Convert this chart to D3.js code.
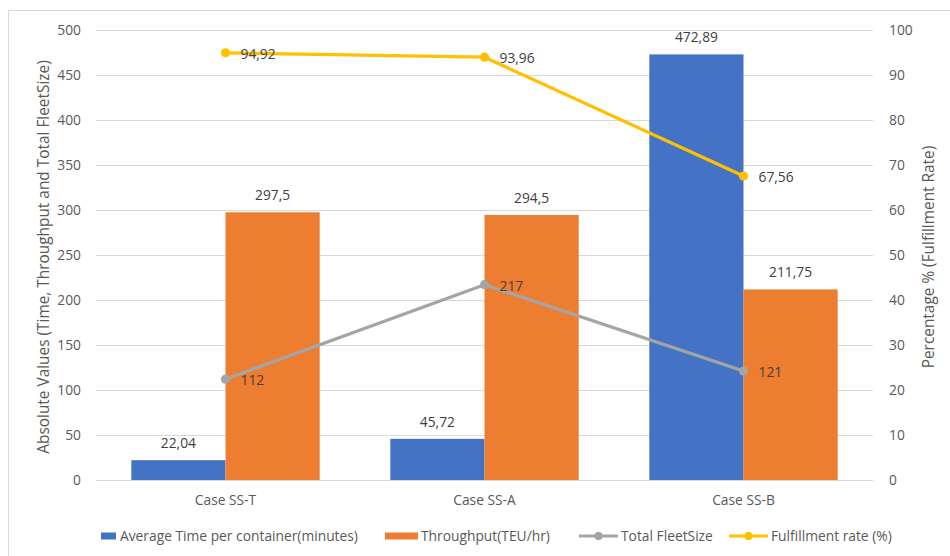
<!DOCTYPE html>
<html>
<head>
<meta charset="utf-8">
<script src="https://cdn.jsdelivr.net/npm/d3@7"></script>
<style>
  html, body { margin: 0; padding: 0; background: #fff; }
  svg { display: block; font-family: "Open Sans", "Noto Sans", sans-serif; }
</style>
</head>
<body>
<svg id="chart" width="950" height="556"></svg>
<script>
// Scenario categories and measured series
const categories = ["Case SS-T", "Case SS-A", "Case SS-B"];
const avgTime = [22.04, 45.72, 472.89];
const throughput = [297.5, 294.5, 211.75];
const fleetSize = [112, 217, 121];
const fulfillment = [94.92, 93.96, 67.56];
const leftTicks = [0, 50, 100, 150, 200, 250, 300, 350, 400, 450, 500];
const rightTicks = [0, 10, 20, 30, 40, 50, 60, 70, 80, 90, 100];

const seriesNames = ["Average Time per container(minutes)", "Throughput(TEU/hr)", "Total FleetSize", "Fulfillment rate (%)"];
const colors = { blue: "#4472C4", orange: "#ED7D31", gray: "#A5A5A5", yellow: "#FFC000" };
const textColor = "#595959";
const fs = 13.8;
const titleFs = 15.4;

const svg = d3.select("#chart");
const plot = { left: 96, right: 873, top: 30, bottom: 480 };

// Outer frame (top and left edges visible)
svg.append("path")
  .attr("d", "M8.5,560 L8.5,10.5 L960,10.5")
  .attr("fill", "none").attr("stroke", "#D9D9D9").attr("stroke-width", 1);

const x = d3.scaleBand().domain(categories).range([plot.left, plot.right]).paddingInner(0).paddingOuter(0);
const yL = d3.scaleLinear().domain([0, 500]).range([plot.bottom, plot.top]);
const yR = d3.scaleLinear().domain([0, 100]).range([plot.bottom, plot.top]);

const fmt = v => String(v).replace(".", ",");

// Gridlines
svg.append("g").selectAll("line").data(leftTicks).join("line")
  .attr("x1", plot.left).attr("x2", plot.right)
  .attr("y1", d => Math.round(yL(d)) + 0.5).attr("y2", d => Math.round(yL(d)) + 0.5)
  .attr("stroke", "#D9D9D9").attr("stroke-width", 1);

// Left axis tick labels
svg.append("g").selectAll("text").data(leftTicks).join("text")
  .attr("x", 81).attr("y", d => yL(d)).attr("dy", "0.35em")
  .attr("text-anchor", "end").attr("font-size", fs).attr("fill", textColor)
  .text(d => d);

// Right axis tick labels
svg.append("g").selectAll("text").data(rightTicks).join("text")
  .attr("x", 889).attr("y", d => yR(d)).attr("dy", "0.35em")
  .attr("text-anchor", "start").attr("font-size", fs).attr("fill", textColor)
  .text(d => d);

// Category labels
svg.append("g").selectAll("text").data(categories).join("text")
  .attr("x", d => x(d) + x.bandwidth() / 2).attr("y", 500).attr("dy", "0.35em")
  .attr("text-anchor", "middle").attr("font-size", fs).attr("fill", textColor)
  .text(d => d);

// Axis titles
svg.append("text")
  .attr("transform", `translate(44,${(plot.top + plot.bottom) / 2 + 2}) rotate(-90)`)
  .attr("text-anchor", "middle").attr("dy", "0.35em")
  .attr("font-size", titleFs).attr("fill", textColor)
  .text("Absolute Values (Time, Throughput and Total FleetSize)");
svg.append("text")
  .attr("transform", `translate(929,${(plot.top + plot.bottom) / 2 + 2}) rotate(-90)`)
  .attr("text-anchor", "middle").attr("dy", "0.35em")
  .attr("font-size", titleFs).attr("fill", textColor)
  .text("Percentage % (Fulfillment Rate)");

// Clustered bars: two bars per category, 75% gap width
const barW = x.bandwidth() / 2.75;
const barSeries = [
  { values: avgTime, color: colors.blue, offset: -1 },
  { values: throughput, color: colors.orange, offset: 0 }
];
barSeries.forEach(s => {
  const g = svg.append("g");
  g.selectAll("rect").data(categories).join("rect")
    .attr("x", (d, i) => x(d) + x.bandwidth() / 2 + s.offset * barW)
    .attr("y", (d, i) => yL(s.values[i]))
    .attr("width", barW)
    .attr("height", (d, i) => yL(0) - yL(s.values[i]))
    .attr("fill", s.color);
  g.selectAll("text").data(categories).join("text")
    .attr("x", (d, i) => x(d) + x.bandwidth() / 2 + s.offset * barW + barW / 2)
    .attr("y", (d, i) => yL(s.values[i]) - 17)
    .attr("dy", "0.35em")
    .attr("text-anchor", "middle").attr("font-size", fs).attr("fill", "#404040")
    .text((d, i) => fmt(s.values[i]));
});

// Line series with markers and right-side value labels
function drawLine(values, scale, color) {
  const pts = categories.map((c, i) => [x(c) + x.bandwidth() / 2, scale(values[i])]);
  const g = svg.append("g");
  g.append("path").attr("d", d3.line()(pts))
    .attr("fill", "none").attr("stroke", color).attr("stroke-width", 3.2)
    .attr("stroke-linejoin", "round").attr("stroke-linecap", "round");
  g.selectAll("circle").data(pts).join("circle")
    .attr("cx", d => d[0]).attr("cy", d => d[1]).attr("r", 4.6).attr("fill", color);
  g.selectAll("text").data(pts).join("text")
    .attr("x", d => d[0] + 15).attr("y", d => d[1] + 1).attr("dy", "0.35em")
    .attr("font-size", fs).attr("fill", "#404040")
    .text((d, i) => fmt(values[i]));
}
drawLine(fleetSize, yL, colors.gray);
drawLine(fulfillment, yR, colors.yellow);

// Legend
const legendY = 536;
const legend = svg.append("g").attr("font-size", fs).attr("fill", textColor);
const legendItems = [
  { name: seriesNames[0], color: colors.blue, type: "bar", x0: 101, w: 15, tx: 120 },
  { name: seriesNames[1], color: colors.orange, type: "bar", x0: 385, w: 33, tx: 421 },
  { name: seriesNames[2], color: colors.gray, type: "line", x0: 579, w: 39, tx: 621 },
  { name: seriesNames[3], color: colors.yellow, type: "line", x0: 729, w: 39, tx: 771 }
];
legendItems.forEach(it => {
  if (it.type === "bar") {
    legend.append("rect").attr("x", it.x0).attr("y", legendY - 3.5).attr("width", it.w).attr("height", 7).attr("fill", it.color);
  } else {
    legend.append("line").attr("x1", it.x0).attr("x2", it.x0 + it.w).attr("y1", legendY).attr("y2", legendY)
      .attr("stroke", it.color).attr("stroke-width", 3.2);
    legend.append("circle").attr("cx", it.x0 + it.w / 2).attr("cy", legendY).attr("r", 4.3).attr("fill", it.color);
  }
  legend.append("text").attr("x", it.tx).attr("y", legendY).attr("dy", "0.35em").text(it.name);
});
</script>
</body>
</html>
